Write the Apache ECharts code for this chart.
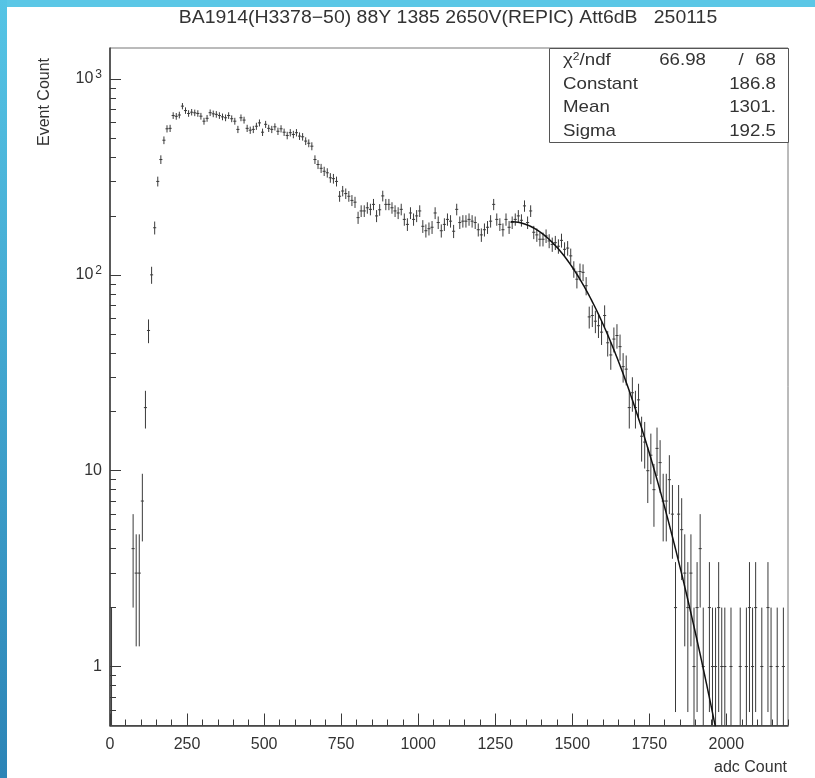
<!DOCTYPE html>
<html><head><meta charset="utf-8">
<script src="https://cdn.jsdelivr.net/npm/echarts@6/dist/echarts.min.js"></script>
<style>html,body{margin:0;padding:0;background:#fff}#c{width:815px;height:778px}</style>
</head><body><div id="c"></div>
<script>
// ---------- data ----------
const binLow = 0;
const binWidth = 10;
const counts = [
  1,0,0,0,0,0,0,4,3,3,
  7,21,52,100,174,300,388,487,557,560,
  651,645,655,727,690,667,677,672,667,646,
  609,630,673,664,660,651,641,634,651,627,
  609,553,634,617,560,548,553,574,597,535,
  587,560,553,570,541,557,535,515,532,521,
  532,511,507,482,470,454,388,366,350,338,
  332,313,310,300,252,268,260,252,240,235,
  196,212,212,220,216,229,200,215,253,229,
  229,220,212,207,216,192,181,207,192,200,
  212,177,168,172,175,207,185,168,181,192,
  188,167,216,185,188,188,192,188,185,170,
  160,170,175,188,229,192,181,170,192,175,
  185,192,200,190,225,185,212,165,160,152,
  152,158,149,143,146,140,150,135,137,125,
  107,95,104,103,88,61,62,58,55,51,
  62,45,39,47,49,43,34,33,21,25,
  21,23,15,14,10,12,8,13,11,7,
  7,9,6,2,6,5,3,2,3,1,
  2,4,1,0,2,1,1,2,1,1,
  0,1,0,0,1,0,1,2,1,2,
  0,1,0,2,1,0,1,0,1,0
];
const xTickLabels = [0,250,500,750,1000,1250,1500,1750,2000];
const yTickValues = [1,10,100,1000];
const yTickText = ['1','10','10|2','10|3'];
const fitConstant = [186.8];
const fitMean = [1301];
const fitSigma = [192.5];
const fitRange = [1300, 2010];
const statsNames = ['Constant','Mean','Sigma'];
const statsValues = ['186.8','1301.','192.5'];
const chiText = ['66.98','/','68'];
const titleText = 'BA1914(H3378\u221250) 88Y 1385 2650V(REPIC) Att6dB   250115';
const xName = 'adc Count';
const yName = 'Event Count';
const xRange = [0, 2200];
const yRange = [0.5, 1440];

// ---------- build ----------
const L = Math.log10;
const yMinL = L(yRange[0]), yMaxL = L(yRange[1]);
const binData = [];
counts.forEach((c, i) => {
  if (c > 0) binData.push([binLow + (i + 0.5) * binWidth, L(c), c]);
});
const fitData = [];
for (let x = fitRange[0]; x <= fitRange[1]; x += 2) {
  const z = (x - fitMean[0]) / fitSigma[0];
  fitData.push([x, L(fitConstant[0] * Math.exp(-0.5 * z * z))]);
}
const yMinor = [];
[0.1, 1, 10, 100].forEach(d => { for (let m = 2; m <= 9; m++) { const v = m * d; if (v > yRange[0] && v < yRange[1]) yMinor.push(L(v)); } });
const xMinor = [];
for (let x = xRange[0]; x <= xRange[1]; x += 50) xMinor.push(x);

const FONT = '"Liberation Sans", Arial, sans-serif';
const TXT = '#333';
const AX = '#3a3a3a';
const chart = echarts.init(document.getElementById('c'), null, {renderer: 'canvas'});
chart.setOption({
  backgroundColor: '#ffffff',
  animation: false,
  grid: {left: 110, right: 27, top: 48, bottom: 52.5, show: true, borderColor: '#777', borderWidth: 1},
  xAxis: [{
    type: 'value', min: xRange[0], max: xRange[1], position: 'bottom',
    axisLine: {onZero: false, lineStyle: {color: AX, width: 1.5}},
    axisTick: {inside: true, length: 12, customValues: xTickLabels, lineStyle: {color: AX, width: 1}},
    axisLabel: {customValues: xTickLabels, margin: 11, fontSize: 16, color: TXT, fontFamily: FONT,
      formatter: v => String(Math.round(v))},
    splitLine: {show: false}
  }, {
    type: 'value', min: xRange[0], max: xRange[1], position: 'bottom',
    axisLine: {show: false, onZero: false},
    axisTick: {inside: true, length: 6, customValues: xMinor, lineStyle: {color: AX, width: 1}},
    axisLabel: {show: false}, splitLine: {show: false}
  }],
  yAxis: [{
    type: 'value', min: yMinL, max: yMaxL, position: 'left',
    axisLine: {onZero: false, lineStyle: {color: AX, width: 1.5}},
    axisTick: {inside: true, length: 11, customValues: yTickValues.map(L), lineStyle: {color: AX, width: 1}},
    axisLabel: {
      customValues: yTickValues.map(L), margin: 8, color: TXT, fontFamily: FONT, fontSize: 16,
      formatter: function (v) {
        const t = yTickText[Math.round(v)];
        if (t.indexOf('|') >= 0) { const p = t.split('|'); return '{b|' + p[0] + '}{s|' + p[1] + '}'; }
        return '{b|' + t + '}';
      },
      rich: {
        b: {fontSize: 16, color: TXT, fontFamily: FONT},
        s: {fontSize: 12, color: TXT, fontFamily: FONT, verticalAlign: 'top', padding: [0, 0, 8, 2]}
      }
    },
    splitLine: {show: false}
  }, {
    type: 'value', min: yMinL, max: yMaxL, position: 'left',
    axisLine: {show: false, onZero: false},
    axisTick: {inside: true, length: 6, customValues: yMinor, lineStyle: {color: AX, width: 1}},
    axisLabel: {show: false}, splitLine: {show: false}
  }],
  series: [{
    type: 'custom', xAxisIndex: 0, yAxisIndex: 0, clip: true,
    data: binData,
    renderItem: function (params, api) {
      const xc = api.value(0), c = api.value(2);
      const e = Math.sqrt(c);
      const lo = c - e > yRange[0] ? L(c - e) : yMinL;
      const hi = L(c + e);
      const ly = L(c);
      const pL = api.coord([xc - binWidth / 2, ly]);
      const pR = api.coord([xc + binWidth / 2, ly]);
      const pT = api.coord([xc, hi]);
      const pB = api.coord([xc, lo]);
      const st = {stroke: '#3a3a3a', lineWidth: 1};
      return {type: 'group', children: [
        {type: 'line', shape: {x1: pL[0], y1: pL[1], x2: pR[0], y2: pR[1]}, style: st},
        {type: 'line', shape: {x1: pT[0], y1: pT[1], x2: pB[0], y2: pB[1]}, style: st}
      ]};
    }
  }, {
    type: 'line', xAxisIndex: 0, yAxisIndex: 0, data: fitData, showSymbol: false, clip: true,
    lineStyle: {color: '#111', width: 1.5}, silent: true
  }],
  graphic: [
    {type: 'rect', shape: {x: 0, y: 0, width: 815, height: 7}, style: {fill: '#5bc7e6'}, z: 100},
    {type: 'rect', shape: {x: 0, y: 0, width: 7, height: 778},
      style: {fill: new echarts.graphic.LinearGradient(0, 0, 0, 1, [{offset: 0, color: '#55c4e5'}, {offset: 1, color: '#2c84b6'}])}, z: 100},
    {type: 'text', x: 448, y: 18, scaleX: 1.08, style: {text: titleText, fill: TXT, font: '18px ' + FONT, textAlign: 'center', textVerticalAlign: 'middle'}},
    {type: 'text', x: 45, y: 102, rotation: Math.PI / 2, style: {text: yName, fill: TXT, font: '16px ' + FONT, textAlign: 'center', textVerticalAlign: 'middle'}},
    {type: 'text', x: 787, y: 768, style: {text: xName, fill: TXT, font: '16px ' + FONT, textAlign: 'right', textVerticalAlign: 'middle'}},
    {type: 'group', children: [
      {type: 'rect', shape: {x: 549.5, y: 48.5, width: 239, height: 94}, style: {fill: '#fff', stroke: '#555', lineWidth: 1}},
      {type: 'text', x: 563, y: 60, scaleX: 1.1, style: {text: '{c|\u03c7}{s|2}{c|/ndf}', rich: {c: {fontSize: 17, fontFamily: FONT, fill: TXT}, s: {fontSize: 11, fontFamily: FONT, fill: TXT, verticalAlign: 'top', padding: [0, 0, 7, 0]}}, textVerticalAlign: 'middle'}},
      {type: 'text', x: 706, y: 60, scaleX: 1.1, style: {text: chiText[0], fill: TXT, font: '17px ' + FONT, textAlign: 'right', textVerticalAlign: 'middle'}},
      {type: 'text', x: 741, y: 60, scaleX: 1.1, style: {text: chiText[1], fill: TXT, font: '17px ' + FONT, textAlign: 'center', textVerticalAlign: 'middle'}},
      {type: 'text', x: 776, y: 60, scaleX: 1.1, style: {text: chiText[2], fill: TXT, font: '17px ' + FONT, textAlign: 'right', textVerticalAlign: 'middle'}},
      {type: 'text', x: 563, y: 84, scaleX: 1.1, style: {text: statsNames[0], fill: TXT, font: '17px ' + FONT, textVerticalAlign: 'middle'}},
      {type: 'text', x: 776, y: 84, scaleX: 1.1, style: {text: statsValues[0], fill: TXT, font: '17px ' + FONT, textAlign: 'right', textVerticalAlign: 'middle'}},
      {type: 'text', x: 563, y: 107.5, scaleX: 1.1, style: {text: statsNames[1], fill: TXT, font: '17px ' + FONT, textVerticalAlign: 'middle'}},
      {type: 'text', x: 776, y: 107.5, scaleX: 1.1, style: {text: statsValues[1], fill: TXT, font: '17px ' + FONT, textAlign: 'right', textVerticalAlign: 'middle'}},
      {type: 'text', x: 563, y: 131, scaleX: 1.1, style: {text: statsNames[2], fill: TXT, font: '17px ' + FONT, textVerticalAlign: 'middle'}},
      {type: 'text', x: 776, y: 131, scaleX: 1.1, style: {text: statsValues[2], fill: TXT, font: '17px ' + FONT, textAlign: 'right', textVerticalAlign: 'middle'}}
    ]}
  ]
});
</script></body></html>
